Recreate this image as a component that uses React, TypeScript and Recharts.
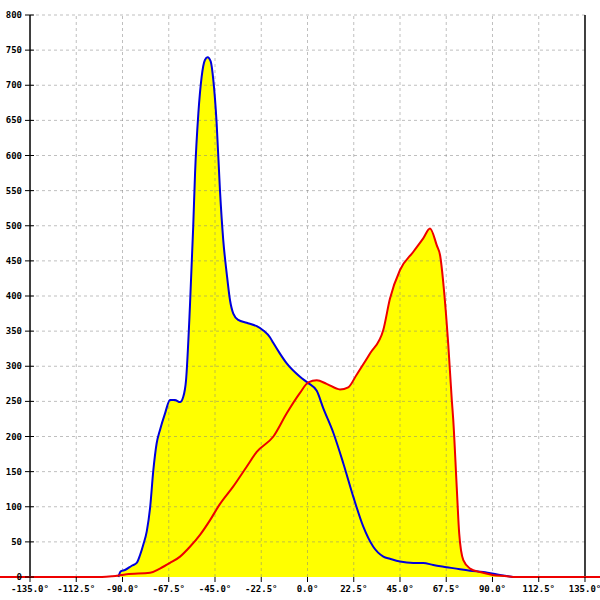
import { ComposedChart, Area, Line, XAxis, YAxis, ReferenceLine } from "recharts";

// angles (deg) and counts
const blueAngles = [
  -92, -90.9, -88.8, -85.5, -83.1, -81.5, -79.9, -78.2, -76.6, -75.0, -73.4,
  -71.8, -69.3, -66.9, -64.5, -62.0, -60.4, -59.1, -57.2, -55.6, -54.7, -53.1,
  -51.5, -49.9, -48.6, -47.1, -45.8, -44.2, -42.6, -41.0, -39.3, -37.7, -36.1,
  -33.7, -29.6, -24.7, -21.5, -18.2, -16.6, -13.4, -10.1, -3.65, 0.4, 4.5, 7.7,
  12.6, 17.4, 22.3, 27.1, 32.0, 36.9, 40.1, 45.0, 51.5, 56.3, 61.2, 67.7, 74.2,
  79.1, 85.5, 93.6, 100,
];
const blueValues = [
  0, 8, 10, 16, 20, 31, 46, 65, 98, 152, 190, 209, 233, 252, 252, 249, 257, 280,
  385, 499, 575, 660, 712, 736, 740, 734, 707, 646, 551, 480, 432, 394, 375, 366,
  362, 357, 351, 341, 333, 318, 304, 285, 276, 265, 240, 205, 162, 114, 72, 43,
  29, 26, 22, 20, 20, 17, 14, 11, 9, 7, 3, 0,
];

const redAngles = [
  -149.6, -100, -95, -88, -76.6, -71.8, -66.9, -62.0, -57.2, -52.3, -47.4, -42.8,
  -36.1, -29.6, -24.7, -16.6, -10.1, -3.65, 0.4, 4.5, 9.3, 15.8, 19.8, 23.9,
  30.4, 36.9, 40.1, 45.0, 51.5, 56.3, 59.6, 62.9, 64.5, 66.5, 68.5, 70.2, 70.9,
  72.6, 73.8, 75.8, 79.1, 84.0, 90, 96.9, 100, 142.3,
];
const redValues = [
  0, 0, 1, 4, 6, 12, 20, 29, 43, 60, 81, 103, 129, 157, 178, 200, 233, 262, 277,
  280, 275, 267, 270, 288, 318, 352, 396, 437, 463, 482, 496, 472, 458, 405, 330,
  252, 224, 128, 62, 24, 12, 7, 3, 1, 0, 0,
];

const xTicks = [-135, -112.5, -90, -67.5, -45, -22.5, 0, 22.5, 45, 67.5, 90, 112.5, 135];
const yTicks = [0, 50, 100, 150, 200, 250, 300, 350, 400, 450, 500, 550, 600, 650, 700, 750, 800];

const blueData = blueAngles.map((x, i) => ({ x, v: blueValues[i] }));
const redData = redAngles.map((x, i) => ({ x, v: redValues[i] }));

const FONT = "'DejaVu Sans Mono', monospace";
const GRID = "#808080";

// y-axis sits at -135°, which is 30px in from the left edge
function YTick(props: any) {
  const { y, payload } = props;
  return (
    <g>
      <line x1={25} x2={34} y1={y} y2={y} stroke="#000" />
      <text
        x={22}
        y={y}
        textAnchor="end"
        dominantBaseline="central"
        fontFamily={FONT}
        fontSize={9}
        fontWeight="bold"
        fill="#000"
      >
        {payload.value}
      </text>
    </g>
  );
}

export default function App() {
  return (
    <div style={{ position: "absolute", left: 0, top: 0, background: "#fff" }}>
      <ComposedChart
        width={600}
        height={600}
        margin={{ top: 15, right: 0, left: 0, bottom: 0 }}
      >
        <XAxis
          dataKey="x"
          type="number"
          domain={["dataMin", "dataMax"]}
          ticks={xTicks}
          interval={0}
          height={23}
          axisLine={false}
          tickLine={{ stroke: "#000" }}
          tickSize={5}
          tickMargin={4}
          tickFormatter={(v: number) => `${v.toFixed(1)}°`}
          tick={{ fontFamily: FONT, fontSize: 9, fontWeight: "bold", fill: "#000" }}
        />
        <YAxis
          type="number"
          domain={[0, 800]}
          ticks={yTicks}
          interval={0}
          mirror
          axisLine={false}
          tickLine={false}
          tick={(p: any) => <YTick {...p} />}
        />
        <Area
          data={blueData}
          dataKey="v"
          type="monotone"
          stroke="none"
          fill="#ffff00"
          fillOpacity={1}
          isAnimationActive={false}
        />
        <Area
          data={redData}
          dataKey="v"
          type="monotone"
          stroke="none"
          fill="#ffff00"
          fillOpacity={1}
          isAnimationActive={false}
        />
        {xTicks
          .filter((t) => Math.abs(t) < 135)
          .map((t) => (
            <ReferenceLine
              key={"gx" + t}
              x={t}
              stroke={GRID}
              strokeOpacity={0.5}
              strokeDasharray="3 3"
            />
          ))}
        {yTicks
          .filter((t) => t > 0)
          .map((t) => (
            <ReferenceLine
              key={"gy" + t}
              segment={[
                { x: -135, y: t },
                { x: 135, y: t },
              ]}
              stroke={GRID}
              strokeOpacity={0.5}
              strokeDasharray="3 3"
            />
          ))}
        <ReferenceLine x={-135} stroke="#000" strokeWidth={1.5} />
        <ReferenceLine x={135} stroke="#000" strokeWidth={1.5} />
        <Line
          data={blueData}
          dataKey="v"
          type="monotone"
          stroke="#0000dd"
          strokeWidth={2}
          dot={false}
          isAnimationActive={false}
        />
        <Line
          data={redData}
          dataKey="v"
          type="monotone"
          stroke="#ee0000"
          strokeWidth={2}
          dot={false}
          isAnimationActive={false}
        />
      </ComposedChart>
    </div>
  );
}
